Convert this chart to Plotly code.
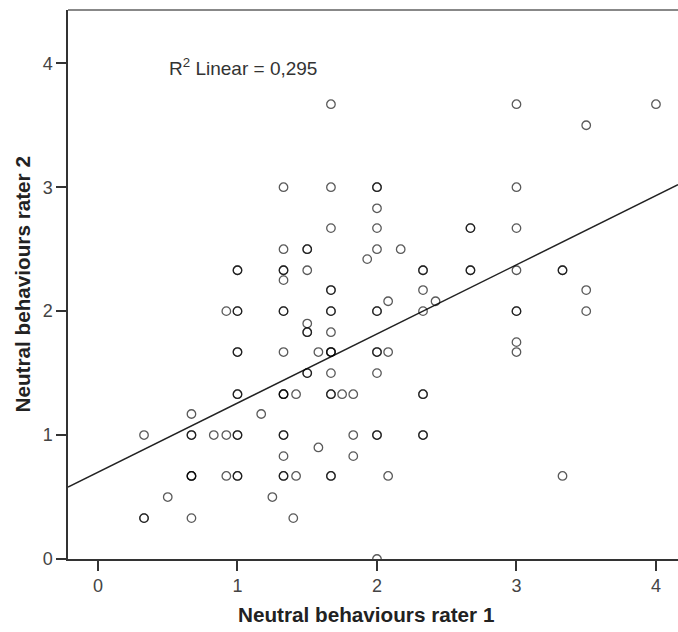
import plotly.graph_objects as go

# Neutral behaviours, rater 1 (x) vs rater 2 (y); repeated pairs = overlapping cases
rater1 = [
    0.33, 0.33, 0.33,
    0.5,
    0.67, 0.67, 0.67, 0.67, 0.67, 0.67, 0.67,
    0.83,
    0.92, 0.92, 0.92,
    1, 1, 1, 1, 1, 1, 1, 1, 1, 1, 1, 1,
    1.17,
    1.25,
    1.33, 1.33, 1.33, 1.33, 1.33, 1.33, 1.33, 1.33, 1.33, 1.33, 1.33, 1.33, 1.33, 1.33, 1.33, 1.33,
    1.42, 1.42, 1.4,
    1.5, 1.5, 1.5, 1.5, 1.5, 1.5, 1.5, 1.5,
    1.58, 1.58,
    1.67, 1.67, 1.67, 1.67, 1.67, 1.67, 1.67, 1.67, 1.67, 1.67, 1.67, 1.67, 1.67, 1.67, 1.67, 1.67,
    1.75,
    1.83, 1.83, 1.83,
    1.93,
    2, 2, 2, 2, 2, 2, 2, 2, 2, 2, 2, 2, 2,
    2.08, 2.08, 2.08,
    2.17,
    2.33, 2.33, 2.33, 2.33, 2.33, 2.33, 2.33, 2.33,
    2.42,
    2.67, 2.67, 2.67, 2.67,
    3, 3, 3, 3, 3, 3, 3, 3,
    3.33, 3.33, 3.33,
    3.5, 3.5, 3.5,
    4,
]
rater2 = [
    1, 0.33, 0.33,
    0.5,
    1.17, 1, 1, 0.67, 0.67, 0.67, 0.33,
    1,
    2, 1, 0.67,
    2.33, 2.33, 2, 2, 1.67, 1.67, 1.33, 1.33, 1, 1, 0.67, 0.67,
    1.17,
    0.5,
    3, 2.5, 2.33, 2.33, 2.25, 2, 2, 1.67, 1.33, 1.33, 1.33, 1, 1, 0.83, 0.67, 0.67,
    1.33, 0.67, 0.33,
    2.5, 2.5, 2.33, 1.9, 1.83, 1.83, 1.5, 1.5,
    1.67, 0.9,
    3.67, 3, 2.67, 2.17, 2.17, 2, 2, 1.83, 1.67, 1.67, 1.67, 1.5, 1.33, 1.33, 0.67, 0.67,
    1.33,
    1.33, 1, 0.83,
    2.42,
    3, 3, 2.83, 2.67, 2.5, 2, 2, 1.67, 1.67, 1.5, 1, 1, 0,
    2.08, 1.67, 0.67,
    2.5,
    2.33, 2.33, 2.17, 2, 1.33, 1.33, 1, 1,
    2.08,
    2.67, 2.67, 2.33, 2.33,
    3.67, 3, 2.67, 2.33, 2, 2, 1.75, 1.67,
    2.33, 2.33, 0.67,
    3.5, 2.17, 2,
    3.67,
]

# Linear fit
fit_intercept = 0.70
fit_slope = 0.558
r2_label = "R<sup>2</sup> Linear = 0,295"

x_title = "Neutral behaviours rater 1"
y_title = "Neutral behaviours rater 2"
x_ticks = [0, 1, 2, 3, 4]
y_ticks = [0, 1, 2, 3, 4]
x_range = [-0.215, 4.158]
y_range = [0, 4.43]

fit_x = [x_range[0], x_range[1]]
fit_y = [fit_intercept + fit_slope * v for v in fit_x]

FONT = "Liberation Sans, Arial, sans-serif"

fig = go.Figure()
fig.add_trace(go.Scatter(
    x=fit_x, y=fit_y, mode="lines",
    line=dict(color="#222222", width=1.5),
    hoverinfo="skip", showlegend=False, cliponaxis=True,
))
fig.add_trace(go.Scatter(
    x=rater1, y=rater2, mode="markers",
    marker=dict(symbol="circle-open", size=8.5, color="rgba(0,0,0,0.65)",
                line=dict(width=1.3)),
    showlegend=False,
))

fig.update_layout(
    width=678, height=632,
    margin=dict(l=68, r=0, t=10, b=73, pad=0),
    paper_bgcolor="white", plot_bgcolor="white",
    font=dict(family=FONT, color="#333333"),
    xaxis=dict(
        range=x_range, tickvals=x_ticks, ticktext=[str(t) for t in x_ticks],
        showgrid=False, zeroline=False, showline=True, mirror=False, linecolor="#333333",
        linewidth=1.5, ticks="outside", ticklen=10, tickwidth=1.5,
        tickcolor="#333333", tickfont=dict(size=18, color="#444444"),
    ),
    yaxis=dict(
        range=y_range, tickvals=y_ticks, ticktext=[str(t) for t in y_ticks],
        showgrid=False, zeroline=False, showline=True, mirror=False, linecolor="#333333",
        linewidth=1.5, ticks="outside", ticklen=10, tickwidth=1.5,
        tickcolor="#333333", tickfont=dict(size=18, color="#444444"),
    ),
    shapes=[dict(type="line", xref="paper", yref="paper", x0=0, x1=1, y0=1, y1=1,
                 line=dict(color="#888888", width=2))],
    annotations=[
        dict(x=0.495, y=3.97, xref="x", yref="y", text=r2_label, showarrow=False,
             xanchor="left", yanchor="middle", font=dict(size=19, color="#333333")),
        dict(x=(366 - 68) / (678 - 68), y=0, xref="paper", yref="paper",
             text="<b>" + x_title + "</b>",
             showarrow=False, xanchor="center", yanchor="middle", yshift=-55,
             font=dict(size=20.7, color="#222222")),
        dict(x=0, y=0.5, xref="paper", yref="paper", text="<b>" + y_title + "</b>",
             showarrow=False, xanchor="center", yanchor="middle", xshift=-46,
             textangle=-90, font=dict(size=20.7, color="#222222")),
    ],
)

# remove the browser's default page margin so the figure fills the window exactly
fig.write_html(
    "out.html",
    config={"displayModeBar": False},
    post_script="document.body.style.margin='0';document.body.style.overflow='hidden';",
)
